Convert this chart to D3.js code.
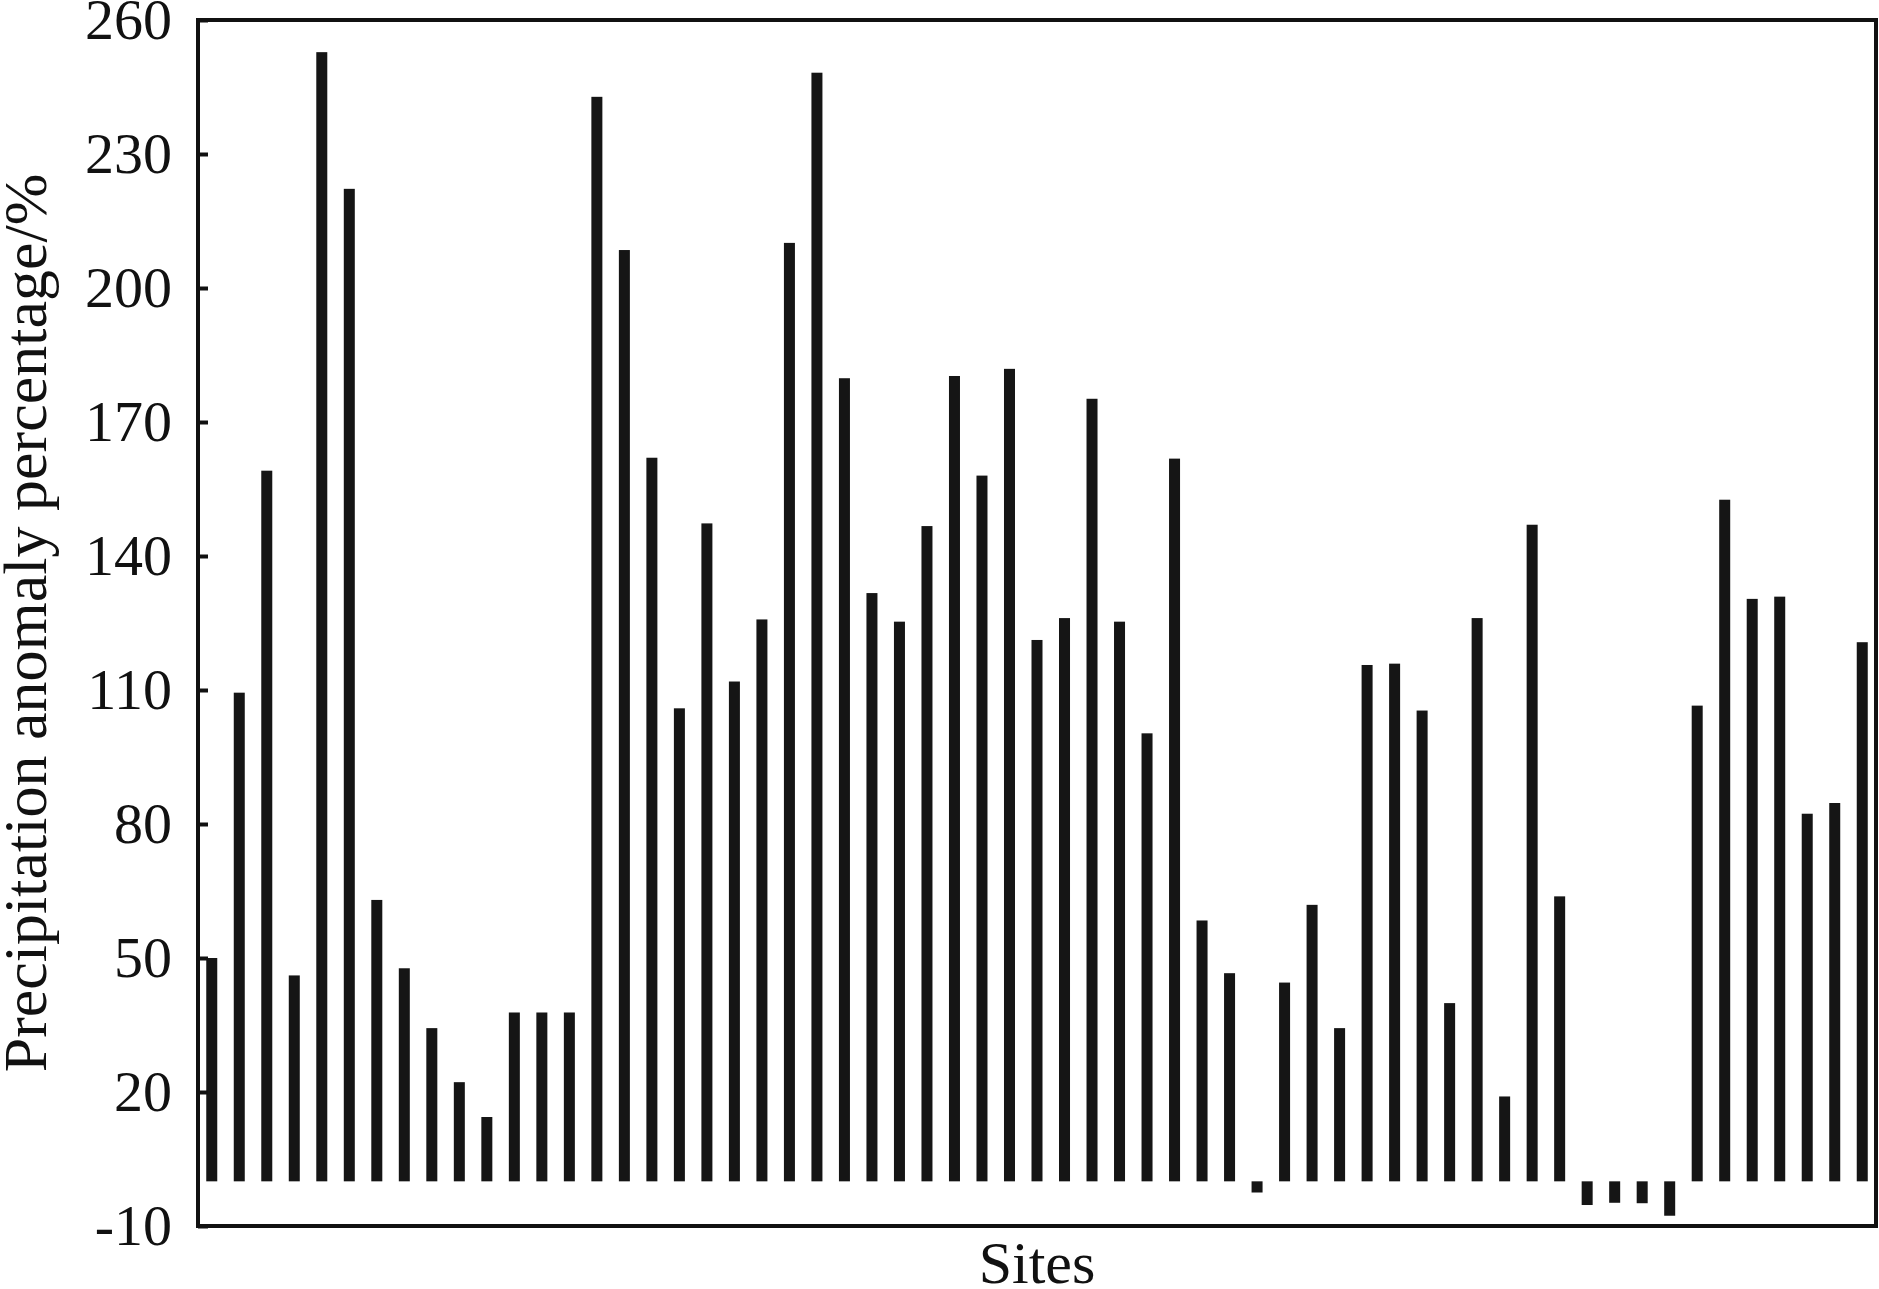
<!DOCTYPE html>
<html>
<head>
<meta charset="utf-8">
<script src="https://cdn.jsdelivr.net/npm/d3@7"></script>
<style>
  body { margin: 0; background: #fff; }
  text { font-family: "Liberation Serif", "Times New Roman", serif; fill: #111; }
</style>
</head>
<body>
<div id="chart"></div>
<script>
// sites are unnamed on the chart, just numbered
const sites = d3.range(1, 62).map(d => "S" + d);

// precipitation anomaly percentage (%) per site
const anomaly = [
  50, 109.4, 159.1, 46.1, 252.8, 222.2, 63.0, 47.7, 34.3, 22.2,
  14.4, 37.8, 37.8, 37.8, 242.8, 208.5, 162.0, 105.9, 147.3, 111.9,
  125.8, 210.1, 248.2, 179.8, 131.7, 125.3, 146.7, 180.3, 158.0, 181.9,
  121.2, 126.1, 175.2, 125.3, 100.3, 161.8, 58.4, 46.6, -2.5, 44.5,
  61.9, 34.3, 115.6, 115.9, 105.4, 39.9, 126.1, 19.0, 147.0, 63.8,
  -5.3, -4.8, -4.9, -7.7, 106.5, 152.6, 130.4, 130.9, 82.3, 84.7,
  120.7
];

const yTicks = [-10, 20, 50, 80, 110, 140, 170, 200, 230, 260];

const width = 1879,
  height = 1289,
  margin = { top: 20, right: 3, bottom: 63, left: 198 };

const svg = d3.select("#chart")
  .append("svg")
  .attr("width", width)
  .attr("height", height);

const xScale = d3.scaleBand()
  .domain(sites)
  .range([margin.left, width - margin.right])
  .paddingInner(0.6)
  .paddingOuter(0.3);

const yScale = d3.scaleLinear()
  .domain([-10, 260])
  .range([height - margin.bottom, margin.top]);

// bars
svg.append("g")
  .selectAll("rect")
  .data(anomaly)
  .join("rect")
  .attr("x", (d, i) => xScale(sites[i]))
  .attr("width", xScale.bandwidth())
  .attr("y", d => yScale(Math.max(0, d)))
  .attr("height", d => Math.abs(yScale(d) - yScale(0)))
  .attr("fill", "#151515");

// y axis, ticks pointing inward; plain hyphen for the minus like the original
const yAxis = d3.axisLeft(yScale)
  .tickValues(yTicks)
  .tickSizeInner(-10)
  .tickSizeOuter(0)
  .tickPadding(26)
  .tickFormat(d => String(d));

const gy = svg.append("g")
  .attr("transform", `translate(${margin.left},0)`)
  .call(yAxis);
gy.select(".domain").remove();
gy.selectAll(".tick line").attr("stroke", "#111").attr("stroke-width", 4);
gy.selectAll(".tick text")
  .attr("font-size", 58)
  .attr("font-family", "Liberation Serif, Times New Roman, serif")
  .attr("fill", "#111");

// frame
svg.append("rect")
  .attr("x", margin.left)
  .attr("y", margin.top)
  .attr("width", width - margin.left - margin.right)
  .attr("height", height - margin.top - margin.bottom)
  .attr("fill", "none")
  .attr("stroke", "#111")
  .attr("stroke-width", 4);

// axis titles
svg.append("text")
  .attr("x", (margin.left + width - margin.right) / 2)
  .attr("y", 1283)
  .attr("text-anchor", "middle")
  .attr("font-size", 60)
  .text("Sites");

svg.append("text")
  .attr("transform", `translate(46,${(margin.top + height - margin.bottom) / 2}) rotate(-90)`)
  .attr("text-anchor", "middle")
  .attr("font-size", 62)
  .text("Precipitation anomaly percentage/%");
</script>
</body>
</html>
